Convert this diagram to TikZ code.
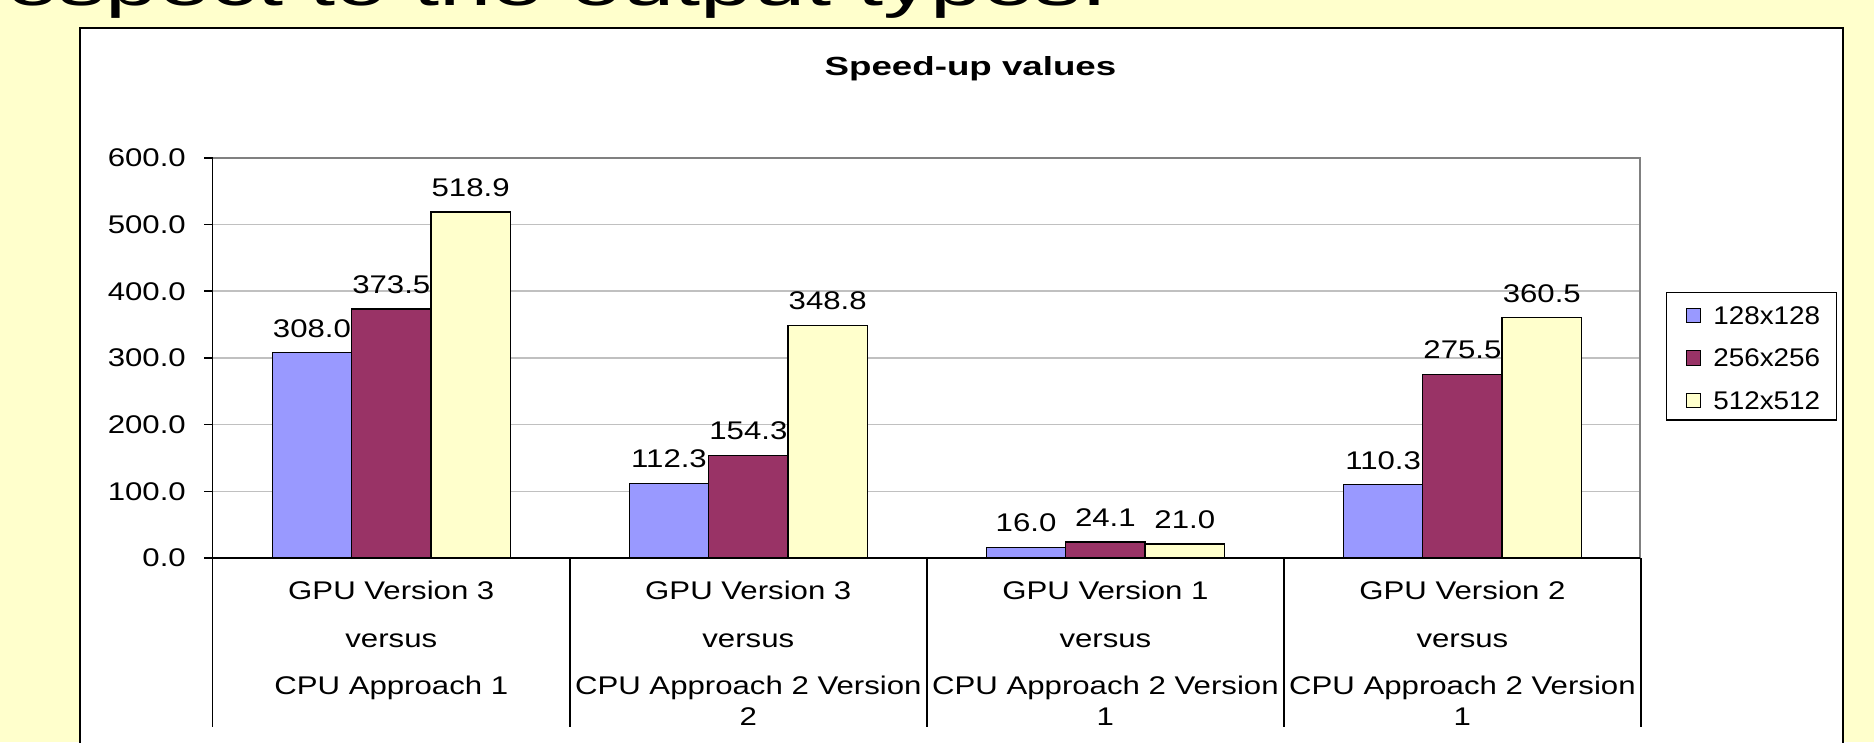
\documentclass[tikz,border=0pt]{standalone}
\usepackage{fontspec}
\setmainfont{Liberation Sans}
\newfontfamily\valfont{Liberation Sans}[FakeStretch=1.22]
\newfontfamily\legfont{Liberation Sans}[FakeStretch=1.09]
\newfontfamily\titfont{Liberation Sans}[FakeStretch=1.4]
\newfontfamily\topfont{Liberation Sans}[FakeStretch=1.51]
\usetikzlibrary{positioning}
\definecolor{cslide}{HTML}{FFFFCC}
\definecolor{cblue}{HTML}{9999FF}
\definecolor{cplum}{HTML}{993366}
\definecolor{cyellow}{HTML}{FFFFCC}
\definecolor{cgrid}{HTML}{C0C0C0}
\definecolor{cframe}{HTML}{808080}
\tikzset{
  every picture/.style={line width=0.8pt},
  bar/.style={draw=black, fill=#1, line width=0.8pt},
  bar/.default=cblue,
  axis/.style={draw=black, line width=0.9pt},
  grid/.style={draw=cgrid, line width=0.9pt},
  frame/.style={draw=cframe, line width=0.9pt},
}
\begin{document}
\begin{tikzpicture}[x=0.025cm, y=-0.025cm,
    val/.style={font=\valfont\fontsize{15.2}{18}\selectfont, inner sep=0pt, anchor=base},
    ylab/.style={font=\valfont\fontsize{15.2}{18}\selectfont, inner sep=0pt, anchor=east},
    leg/.style={font=\legfont\fontsize{15.2}{18}\selectfont, inner sep=0pt, anchor=west}]
  \path[use as bounding box, fill=cslide] (0,0) rectangle (1568,621);
  \clip (0,0) rectangle (1568,621);
  % slide heading, cut off at the top
  \node[font=\topfont\fontsize{37}{40}\selectfont, inner sep=0pt, anchor=base west] (hdr) at (5,4.2) {espect to the output types:};
  % chart area
  \draw[fill=white, line width=1.3pt] (67,23.7) rectangle (1542,660);
  \node[font=\titfont\bfseries\fontsize{15.6}{18}\selectfont, inner sep=0pt, anchor=base] (ttl) at (812,62.8) {Speed-up values};
  % grid and plot frame
  \foreach \k in {1,...,5} \draw[grid] (178,{467-55.83*\k}) -- (1372,{467-55.83*\k});
  \draw[frame] (178,132) -- (1372,132) -- (1372,467);
  % bars
  \foreach \g/\va/\vb/\vc in {0/308.0/373.5/518.9, 1/112.3/154.3/348.8, 2/16.0/24.1/21.0, 3/110.3/275.5/360.5} {
    \foreach \v/\c [count=\i from 0] in {\va/cblue, \vb/cplum, \vc/cyellow} {
      \draw[bar=\c] ({227.8+298.75*\g+66.4*\i},467) rectangle ({294.2+298.75*\g+66.4*\i},{467-0.5583*\v});
      \node[val] (v\g\i) at ({261+298.75*\g+66.4*\i},{454-0.5583*\v}) {\v};
    }
  }
  % value axis
  \draw[axis] (178,132) -- (178,608);
  \draw[axis] (171,467) -- (1372,467);
  \foreach \k/\t in {0/0.0, 1/100.0, 2/200.0, 3/300.0, 4/400.0, 5/500.0, 6/600.0} {
    \draw[axis] (171,{467-55.83*\k}) -- (178,{467-55.83*\k});
    \node[ylab] (y\k) at (156,{467-55.83*\k}) {\t};
  }
  % category table
  \foreach \g in {1,...,4} \draw[axis] ({178+298.75*\g},467) -- ({178+298.75*\g},608);
  \node[val] (c0a) at (327.4,502) {GPU Version 3};
  \node[val] (c0b) at (327.4,541.7) {versus};
  \node[val] (c0c) at (327.4,581.5) {CPU Approach 1};
  \node[val] (c1a) at (626.1,502) {GPU Version 3};
  \node[val] (c1b) at (626.1,541.7) {versus};
  \node[val] (c1c) at (626.1,581.5) {CPU Approach 2 Version};
  \node[val] (c1d) at (626.1,606.7) {2};
  \node[val] (c2a) at (924.9,502) {GPU Version 1};
  \node[val] (c2b) at (924.9,541.7) {versus};
  \node[val] (c2c) at (924.9,581.5) {CPU Approach 2 Version};
  \node[val] (c2d) at (924.9,606.7) {1};
  \node[val] (c3a) at (1223.6,502) {GPU Version 2};
  \node[val] (c3b) at (1223.6,541.7) {versus};
  \node[val] (c3c) at (1223.6,581.5) {CPU Approach 2 Version};
  \node[val] (c3d) at (1223.6,606.7) {1};
  % legend
  \draw[fill=white, line width=0.7pt] (1394.5,244.6) rectangle (1536.7,351.4);
  \foreach \c/\t [count=\r from 0] in {cblue/128x128, cplum/256x256, cyellow/512x512} {
    \draw[bar=\c, line width=0.6pt] (1411,{258+35.5*\r}) rectangle (1423,{270+35.5*\r});
    \node[leg] (l\r) at (1433,{264+35.5*\r}) {\t};
  }
\end{tikzpicture}
\end{document}
